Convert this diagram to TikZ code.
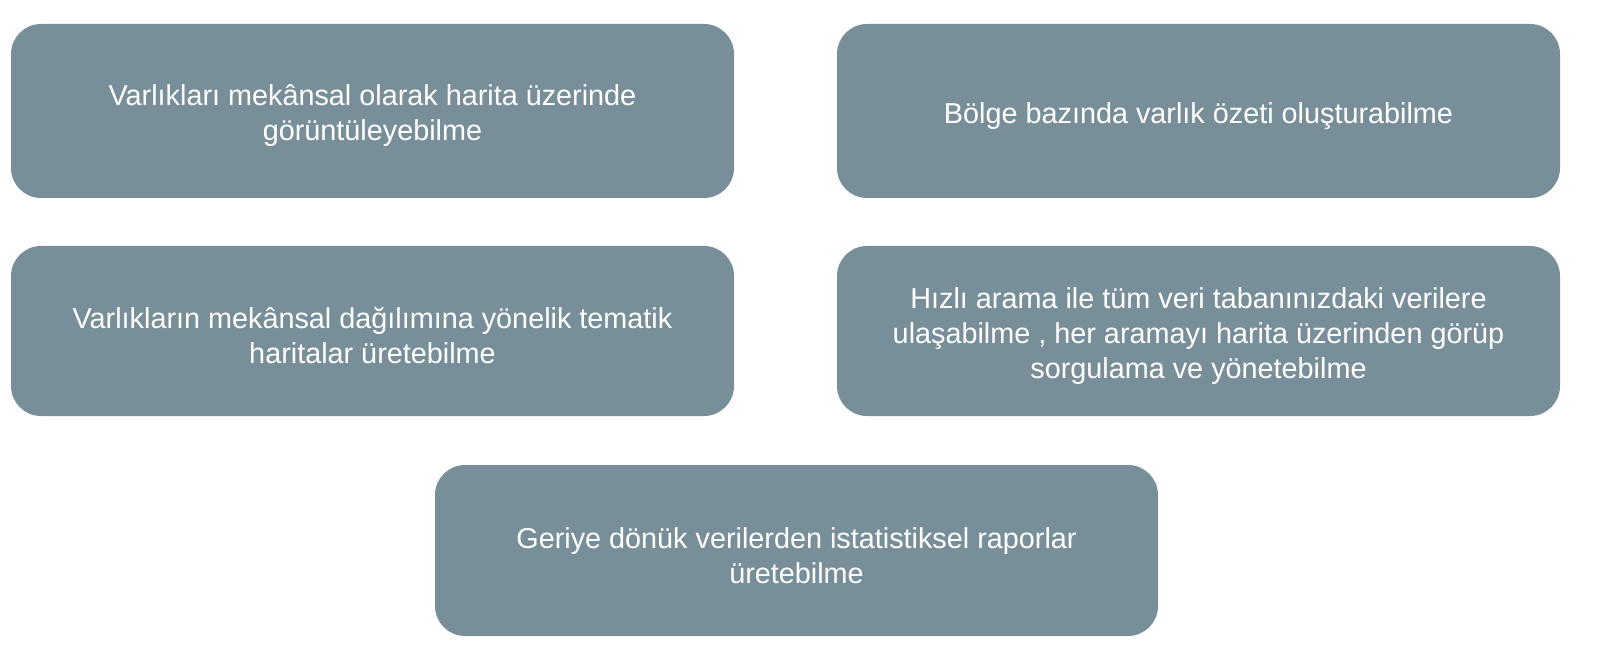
\documentclass[tikz,border=0pt]{standalone}
\usepackage{fontspec}
\setmainfont{Liberation Sans}
\definecolor{boxfill}{HTML}{788F9A}
\begin{document}
\begin{tikzpicture}[x=0.5pt,y=-0.5pt,
  card/.style={draw=none, fill=boxfill, rounded corners=15pt,
    minimum width=361.5pt, inner sep=0pt},
  cardtext/.style={text=white, align=center, inner sep=0pt, yshift=-2.5pt,
    font=\fontsize{14.4}{17.5}\selectfont}]
\useasboundingbox (0,0) rectangle (1600,663);
\node[card, minimum height=87pt] (a) at (372.5,111) {};
\node[card, minimum height=87pt] (b) at (1198.5,111) {};
\node[card, minimum height=85pt] (c) at (372.5,331) {};
\node[card, minimum height=85pt] (d) at (1198.5,331) {};
\node[card, minimum height=85.5pt] (e) at (796.5,550.5) {};
\node[cardtext] (at) at (a.center) {Varlıkları mekânsal olarak harita üzerinde\\görüntüleyebilme};
\node[cardtext] (bt) at (b.center) {Bölge bazında varlık özeti oluşturabilme};
\node[cardtext] (ct) at (c.center) {Varlıkların mekânsal dağılımına yönelik tematik\\haritalar üretebilme};
\node[cardtext] (dt) at (d.center) {Hızlı arama ile tüm veri tabanınızdaki verilere\\ulaşabilme , her aramayı harita üzerinden görüp\\sorgulama ve yönetebilme};
\node[cardtext] (et) at (e.center) {Geriye dönük verilerden istatistiksel raporlar\\üretebilme};
\end{tikzpicture}
\end{document}
